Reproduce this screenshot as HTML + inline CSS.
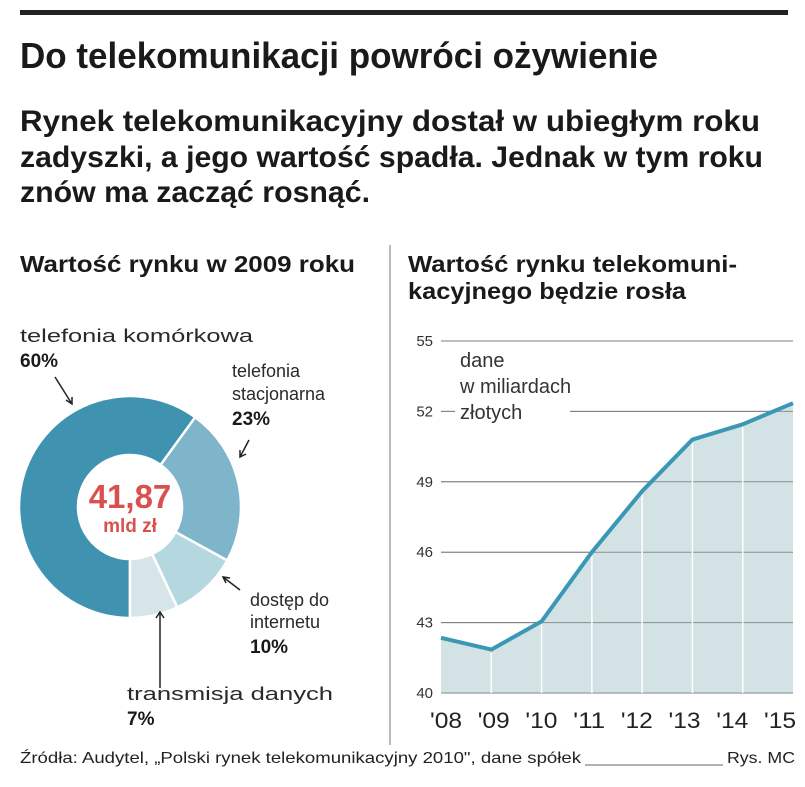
<!DOCTYPE html>
<html><head><meta charset="utf-8">
<style>
html,body{margin:0;padding:0;background:#fff;}
svg{display:block;font-family:"Liberation Sans",sans-serif;}
.lab{font-size:18px;fill:#2a2a2a;}
.pct{font-size:19px;font-weight:bold;fill:#1a1a1a;}
</style></head>
<body>
<svg id="root" width="805" height="787" viewBox="0 0 805 787" xmlns="http://www.w3.org/2000/svg">
<rect x="20" y="10" width="768" height="5" fill="#222"/>
<text x="20" y="68" font-size="36" font-weight="bold" fill="#1a1a1a" textLength="638" lengthAdjust="spacingAndGlyphs">Do telekomunikacji powróci ożywienie</text>
<g font-weight="bold" fill="#1a1a1a" font-size="30">
<text x="20" y="131" textLength="740" lengthAdjust="spacingAndGlyphs">Rynek telekomunikacyjny dostał w ubiegłym roku</text>
<text x="20" y="167" textLength="743" lengthAdjust="spacingAndGlyphs">zadyszki, a jego wartość spadła. Jednak w tym roku</text>
<text x="20" y="202" textLength="350" lengthAdjust="spacingAndGlyphs">znów ma zacząć rosnąć.</text>
</g>
<text x="20" y="272" font-size="23" font-weight="bold" fill="#1a1a1a" textLength="335" lengthAdjust="spacingAndGlyphs">Wartość rynku w 2009 roku</text>
<text x="408" y="272" font-size="23" font-weight="bold" fill="#1a1a1a" textLength="329" lengthAdjust="spacingAndGlyphs">Wartość rynku telekomuni-</text>
<text x="408" y="299" font-size="23" font-weight="bold" fill="#1a1a1a" textLength="278" lengthAdjust="spacingAndGlyphs">kacyjnego będzie rosła</text>
<line x1="390" y1="245" x2="390" y2="745" stroke="#777" stroke-width="1"/>

<g id="donut"></g>
<g>
<text class="lab" x="20" y="342" font-size="20" textLength="233" lengthAdjust="spacingAndGlyphs">telefonia komórkowa</text>
<text class="pct" x="20" y="367">60%</text>
<text class="lab" x="232" y="377">telefonia</text>
<text class="lab" x="232" y="400">stacjonarna</text>
<text class="pct" x="232" y="425">23%</text>
<text class="lab" x="250" y="606">dostęp do</text>
<text class="lab" x="250" y="628">internetu</text>
<text class="pct" x="250" y="653">10%</text>
<text class="lab" x="127" y="700" font-size="20" textLength="206" lengthAdjust="spacingAndGlyphs">transmisja danych</text>
<text class="pct" x="127" y="725">7%</text>
<text x="130" y="508" text-anchor="middle" font-size="33" font-weight="bold" fill="#d9514f">41,87</text>
<text x="130" y="532" text-anchor="middle" font-size="19" font-weight="bold" fill="#d9514f">mld zł</text>
</g>
<g stroke="#222" stroke-width="1.5" fill="none">
<path d="M55 377 L72 404 M66 400 L72 404 L72 397"/>
<path d="M249 440 L240 457 M240 450 L240 457 L246 454"/>
<path d="M240 590 L223 577 M230 578 L223 577 L226 583"/>
<path d="M160 688 L160 612 M156 618 L160 612 L164 618"/>
</g>

<g id="line"></g>

<text x="20" y="763" font-size="16" fill="#222" textLength="561" lengthAdjust="spacingAndGlyphs">Źródła: Audytel, „Polski rynek telekomunikacyjny 2010", dane spółek</text>
<line x1="585" y1="765" x2="723" y2="765" stroke="#999" stroke-width="1.5"/>
<text x="727" y="763" font-size="16" fill="#222" textLength="68" lengthAdjust="spacingAndGlyphs">Rys. MC</text>
</svg>
<script>
const NS="http://www.w3.org/2000/svg";
const sliceNames=["telefonia-komorkowa","telefonia-stacjonarna","dostep-do-internetu","transmisja-danych"];
const sliceShares=[60,23,10,7];
const sliceColors=["#3f93b1","#7fb5ca","#b5d7e0","#d6e5e8"];
const years=["'08","'09","'10","'11","'12","'13","'14","'15"];
const values=[42.35,41.85,43.05,46.0,48.6,50.8,51.45,52.35];
const yTicks=[40,43,46,49,52,55];

function mk(tag,attrs,parent){const e=document.createElementNS(NS,tag);for(const k in attrs)e.setAttribute(k,attrs[k]);parent.appendChild(e);return e;}

const dg=document.getElementById('donut');
const cx=130,cy=507,R=111,r=52;
const total=sliceShares.reduce((a,b)=>a+b,0);
let ang=180;
function pt(a,rad){const t=a*Math.PI/180;return [cx+rad*Math.sin(t),cy-rad*Math.cos(t)];}
sliceShares.forEach((v,i)=>{
  const a0=ang,a1=ang+v/total*360;ang=a1;
  const [x0,y0]=pt(a0,R),[x1,y1]=pt(a1,R),[x2,y2]=pt(a1,r),[x3,y3]=pt(a0,r);
  const lg=(a1-a0)>180?1:0;
  const p=mk('path',{d:`M${x0} ${y0} A${R} ${R} 0 ${lg} 1 ${x1} ${y1} L${x2} ${y2} A${r} ${r} 0 ${lg} 0 ${x3} ${y3} Z`,fill:sliceColors[i],stroke:'#fff','stroke-width':2.5},dg);
  
  
});

const lg=document.getElementById('line');
const x0=441,x1=793,yTop=341,yBot=693,vMin=40,vMax=55;
const X=i=>x0+(x1-x0)*i/(years.length-1);
const LX=i=>446+(780-446)*i/(years.length-1);
const Y=v=>yBot-(v-vMin)/(vMax-vMin)*(yBot-yTop);
let d=`M${X(0)} ${Y(values[0])}`;values.forEach((v,i)=>{if(i)d+=` L${X(i)} ${Y(v)}`;});
yTicks.forEach(t=>{
  const l=mk('line',{x1:x0,x2:x1,y1:Y(t),y2:Y(t),stroke:'#8a8a8a','stroke-width':1},lg);
  
  
  const tx=mk('text',{x:433,y:Y(t)+5,'text-anchor':'end','font-size':15,fill:'#333'},lg);
  tx.textContent=t;
  
  
});
const area=mk('path',{d:d+` L${X(years.length-1)} ${yBot} L${X(0)} ${yBot} Z`,fill:'#d3e2e4'},lg);


yTicks.forEach(t=>{
  const l=mk('line',{x1:x0,x2:x1,y1:Y(t),y2:Y(t),stroke:'#7a7a7a','stroke-width':1,opacity:0.8},lg);
  
  
});
years.forEach((y,i)=>{
  if(i>0&&i<years.length-1){
    const v=mk('line',{x1:X(i),x2:X(i),y1:Y(values[i])+3,y2:yBot,stroke:'#fff','stroke-width':1.5},lg);
    
    
  }
  const t=mk('text',{x:LX(i),y:728,'text-anchor':'middle','font-size':22,fill:'#222',textLength:32,lengthAdjust:'spacingAndGlyphs'},lg);
  t.textContent=y;
  
  
});
const ln=mk('path',{d:d,fill:'none',stroke:'#3a98b6','stroke-width':4,'stroke-linejoin':'round'},lg);


const note=mk('rect',{x:455,y:348,width:115,height:80,fill:'#fff'},lg);


[["dane",367],["w miliardach",393],["złotych",419]].forEach((a,i)=>{
  const t=mk('text',{x:460,y:a[1],'font-size':20,fill:'#333'},lg);
  t.textContent=a[0];
  
  
});
</script>
</body></html>
